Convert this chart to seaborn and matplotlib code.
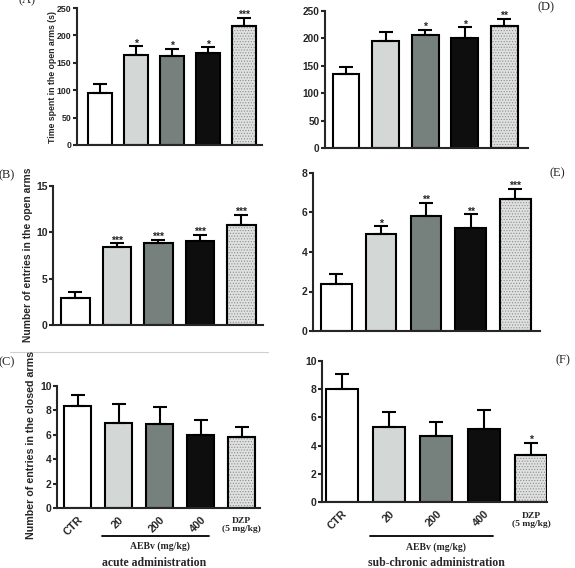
import numpy as np
import seaborn as sns
import matplotlib.pyplot as plt
import matplotlib.transforms as mtransforms
from matplotlib.patches import Rectangle

# --- Data ---
groups = ["CTR", "20", "200", "400", "DZP"]
rot_labels = ["CTR", "20", "200", "400"]
bar_colors = ["#ffffff", "#d3d8d6", "#76817d", "#0e0e0e", "#dfe1e0"]

# acute administration
time_acute = [95, 164, 163, 167, 218]
time_acute_sem = [16, 16, 12, 11, 14]
time_acute_sig = ["", "*", "*", "*", "***"]

open_acute = [2.9, 8.4, 8.9, 9.1, 10.8]
open_acute_sem = [0.7, 0.4, 0.3, 0.6, 1.1]
open_acute_sig = ["", "***", "***", "***", "***"]

closed_acute = [8.4, 7.0, 6.9, 6.0, 5.8]
closed_acute_sem = [0.9, 1.5, 1.4, 1.2, 0.8]
closed_acute_sig = ["", "", "", "", ""]

# sub-chronic administration
time_sub = [135, 195, 207, 201, 222]
time_sub_sem = [13, 17, 8, 19, 13]
time_sub_sig = ["", "", "*", "*", "**"]

open_sub = [2.4, 4.9, 5.8, 5.2, 6.7]
open_sub_sem = [0.5, 0.4, 0.7, 0.7, 0.5]
open_sub_sig = ["", "*", "**", "**", "***"]

closed_sub = [8.0, 5.3, 4.7, 5.2, 3.3]
closed_sub_sem = [1.1, 1.1, 1.0, 1.3, 0.9]
closed_sub_sig = ["", "", "", "", "*"]

W, H = 575, 568
SERIF = "Liberation Serif"

sns.set_style("ticks")
plt.rcParams["font.family"] = ["Liberation Sans", "DejaVu Sans"]
plt.rcParams["font.weight"] = "bold"
plt.rcParams["hatch.linewidth"] = 0.5


def px_rect(x0, x1, y0, y1):
    return [x0 / W, 1 - y1 / H, (x1 - x0) / W, (y1 - y0) / H]


def draw_panel(fig, rect, xlim, ylim, yticks, means, sems, sig, fs=7.5, bottom=False):
    ax = fig.add_axes(px_rect(*rect))
    sns.barplot(x=groups, y=means, hue=groups, palette=bar_colors, legend=False,
                edgecolor="black", linewidth=1.5, width=0.68, saturation=1, ax=ax)
    # dotted DZP bar
    p = ax.patches[4]
    p.set_hatch("......")
    p.set_edgecolor("#8c8c8c")
    ax.add_patch(Rectangle(p.get_xy(), p.get_width(), p.get_height(), fill=False,
                           edgecolor="black", linewidth=1.5, zorder=p.get_zorder() + 0.1))
    ax.errorbar(np.arange(len(groups)), means, yerr=[np.zeros(len(sems)), sems],
                fmt="none", ecolor="black", elinewidth=1.5, capsize=5, capthick=1.5, zorder=1)
    for i, s in enumerate(sig):
        if s:
            ax.annotate(s, (i, means[i] + sems[i]), xytext=(0, -1.5), textcoords="offset points",
                        ha="center", va="bottom", fontsize=7.5)
    ax.set_xlim(*xlim)
    ax.set_ylim(*ylim)
    ax.set_yticks(yticks)
    ax.set_xlabel("")
    ax.set_ylabel("")
    sns.despine(ax=ax)
    for sp in ax.spines.values():
        sp.set_linewidth(1.5)
    ax.tick_params(axis="y", length=3, width=1.5, labelsize=fs, pad=1)
    ax.tick_params(axis="x", length=0)
    plt.setp(ax.get_yticklabels(), fontweight="bold")
    ax.set_facecolor("none")
    if bottom:
        ax.set_xticks(range(4))
        ax.set_xticklabels(rot_labels, rotation=45, ha="right", va="top",
                           rotation_mode="anchor", fontsize=7.8, fontweight="bold")
        ax.tick_params(axis="x", pad=5)
    else:
        ax.set_xticks([])
    return ax


fig = plt.figure(figsize=(W / 100, H / 100), dpi=100)

axA = draw_panel(fig, (77, 262, 8, 145), (-0.64, 4.5), (0, 250), range(0, 251, 50),
                 time_acute, time_acute_sem, time_acute_sig, fs=6.3)
axD = draw_panel(fig, (325, 528, 11, 148), (-0.53, 4.6), (0, 250), range(0, 251, 50),
                 time_sub, time_sub_sem, time_sub_sig, fs=7.2)
axB = draw_panel(fig, (53, 263, 186, 325), (-0.54, 4.52), (0, 15), [0, 5, 10, 15],
                 open_acute, open_acute_sem, open_acute_sig)
axE = draw_panel(fig, (313, 540, 173, 331), (-0.525, 4.55), (0, 8), [0, 2, 4, 6, 8],
                 open_sub, open_sub_sem, open_sub_sig)
axC = draw_panel(fig, (57, 260, 386, 508), (-0.5, 4.45), (0, 10), range(0, 11, 2),
                 closed_acute, closed_acute_sem, closed_acute_sig, bottom=True)
axF = draw_panel(fig, (322, 547, 361, 502), (-0.42, 4.34), (0, 10), range(0, 11, 2),
                 closed_sub, closed_sub_sem, closed_sub_sig, bottom=True)

# y labels
fig.text(53 / W, 1 - 77 / H, "Time spent in the open arms (s)", rotation=90,
         ha="center", va="center", fontsize=6.3, fontweight="bold")
fig.text(28 / W, 1 - 255 / H, "Number of entries in the open arms", rotation=90,
         ha="center", va="center", fontsize=7.4, fontweight="bold")
fig.text(31 / W, 1 - 445 / H, "Number of entries in the closed arms", rotation=90,
         ha="center", va="center", fontsize=7.7, fontweight="bold")

# panel letters
for lab, x, y in [("(A)", 27, 0), ("(B)", 7, 175), ("(C)", 7, 362),
                  ("(D)", 546, 7), ("(E)", 557, 173), ("(F)", 563, 360)]:
    fig.text(x / W, 1 - y / H, lab, ha="center", va="center", fontsize=9,
             family=SERIF, weight="normal")

# group annotations under bottom panels
for ax, y_line, y_txt, y_dzp, title, tx in [
        (axC, 536, 546, 517, "acute administration", 154),
        (axF, 536, 547, 512, "sub-chronic administration", 436)]:
    tr = mtransforms.blended_transform_factory(ax.transData, fig.transFigure)
    ax.plot([0.6, 3.2], [1 - y_line / H] * 2, color="black", lw=1.3,
            transform=tr, clip_on=False)
    ax.text(2.0, 1 - y_txt / H, "AEBv (mg/kg)", transform=tr, ha="center", va="center",
            fontsize=7, family=SERIF, weight="bold")
    ax.text(4, 1 - y_dzp / H, "DZP\n(5 mg/kg)", transform=tr, ha="center", va="top",
            fontsize=6.8, family=SERIF, weight="bold", linespacing=0.95)
    fig.text(tx / W, 1 - 557 / H, title, ha="center", va="top", fontsize=8.5,
             family=SERIF, weight="bold")

# faint separator line between panels B and C
fig.add_artist(plt.Line2D([10 / W, 268 / W], [1 - 352 / H] * 2, color="#cfcfcf", lw=0.8))

fig.savefig("out.png", dpi=100)
